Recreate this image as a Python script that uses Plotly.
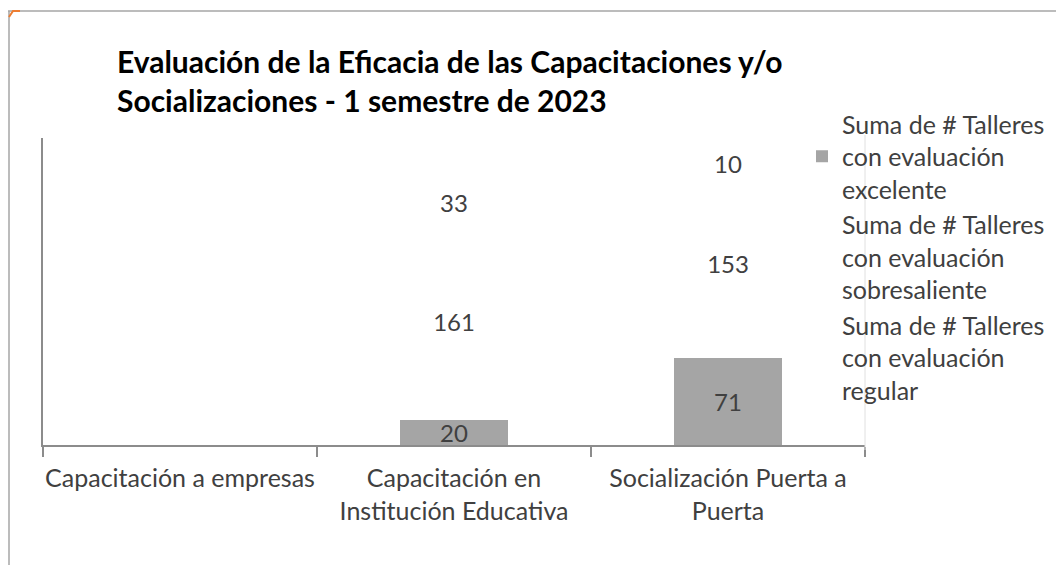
import plotly.graph_objects as go

# ------------------------------ data ------------------------------ #
categorias = [
    "Capacitación a empresas",
    "Capacitación en<br>Institución Educativa",
    "Socialización Puerta a<br>Puerta",
]
nombres = [
    "Suma de # Talleres<br>con evaluación<br>excelente",
    "Suma de # Talleres<br>con evaluación<br>sobresaliente",
    "Suma de # Talleres<br>con evaluación<br>regular",
]
excelente = [None, 20, 71]
sobresaliente = [None, 161, 153]
regular = [None, 33, 10]

titulo_1 = "Evaluación de la Eficacia de las Capacitaciones y/o"
titulo_2 = "Socializaciones - 1 semestre de 2023"

# page is 1064x565 but the html body has an 8px margin
OFF = 8
W, H = 1064 - OFF, 565 - OFF
L, R, T, B = 43, 865, 138, 445   # plot area, page pixels


def px_x(x):
    return (x - L) / (R - L)


def px_y(y):
    return (B - y) / (B - T)


FONT = "Lato"
TXT = "#404040"
GRIS = "#a5a5a5"
EJE = "#8c8c8c"

fig = go.Figure()
# --------------------------- stacked bars --------------------------- #
for nombre, valores, color in zip(nombres, [excelente, sobresaliente, regular],
                                  [GRIS, "rgba(255,255,255,0)", "rgba(255,255,255,0)"]):
    fig.add_trace(
        go.Bar(
            name=nombre,
            x=categorias,
            y=valores,
            marker_color=color,
            marker_line_width=0,
            text=valores,
            textposition="inside",
            insidetextanchor="middle",
            textangle=0,
            constraintext="none",
            textfont=dict(family=FONT, size=24, color=TXT),
            legendgroup=nombre,
        )
    )

# --------------------------- layout --------------------------- #
fig.update_layout(
    width=W,
    height=H,
    barmode="stack",
    bargap=0.605,
    paper_bgcolor="white",
    plot_bgcolor="white",
    margin=dict(l=L - OFF, r=1064 - R, t=T - OFF, b=565 - B, pad=0, autoexpand=False),
    font=dict(family=FONT, color=TXT),
    xaxis=dict(
        type="category",
        showline=True,
        linecolor=EJE,
        linewidth=2,
        ticks="outside",
        tickson="boundaries",
        ticklen=10,
        tickwidth=2,
        tickcolor=EJE,
        tickangle=0,
        automargin=False,
        ticklabelstandoff=10,
        tickfont=dict(family=FONT, size=25, color=TXT),
        showgrid=False,
        zeroline=False,
    ),
    yaxis=dict(
        range=[0, 250],
        showline=True,
        linecolor=EJE,
        linewidth=1.5,
        showticklabels=False,
        ticks="",
        automargin=False,
        showgrid=False,
        zeroline=False,
    ),
    legend=dict(
        x=px_x(802),
        xanchor="left",
        y=px_y(101),
        yanchor="top",
        maxheight=600,
        font=dict(family=FONT, size=25, color=TXT),
        traceorder="grouped",
        tracegroupgap=0,
        bgcolor="rgba(0,0,0,0)",
        valign="middle",
    ),
    showlegend=True,
)

# --------------------------- title --------------------------- #
for texto, y in [(titulo_1, 61), (titulo_2, 100)]:
    fig.add_annotation(
        text=texto, xref="paper", yref="paper",
        x=px_x(115), y=px_y(y), xanchor="left", yanchor="middle",
        showarrow=False, font=dict(family=FONT, size=30, color="black", weight="bold"),
    )

# ------------------------ frame lines ------------------------ #
fig.add_shape(type="line", xref="paper", yref="paper",
              x0=px_x(OFF), x1=px_x(1064), y0=px_y(11), y1=px_y(11),
              line=dict(color="#a6a6a6", width=1.5))
fig.add_shape(type="line", xref="paper", yref="paper",
              x0=px_x(OFF + 1), x1=px_x(OFF + 1), y0=px_y(11), y1=px_y(565),
              line=dict(color="#a6a6a6", width=1.5))
fig.add_shape(type="line", xref="paper", yref="paper",
              x0=1, x1=1, y0=px_y(135), y1=px_y(450),
              line=dict(color="#e0e0e0", width=1))
fig.add_shape(type="path", xref="paper", yref="paper",
              path=f"M{px_x(OFF + 1)},{px_y(17)} L{px_x(13)},{px_y(11)} L{px_x(20)},{px_y(11)}",
              line=dict(color="#ed7d31", width=2))

fig.write_html("out.html")
